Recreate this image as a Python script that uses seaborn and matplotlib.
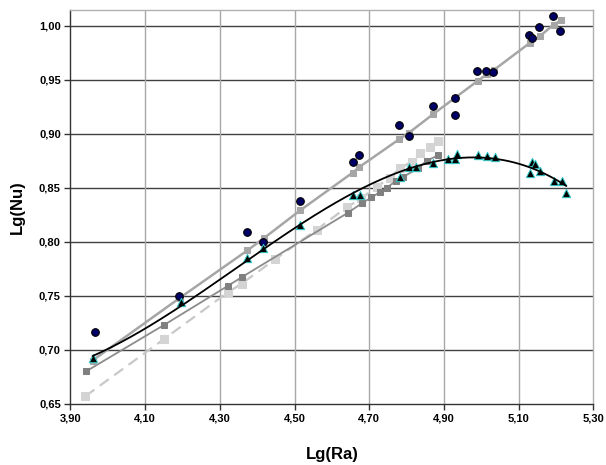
import numpy as np
import pandas as pd
import matplotlib
matplotlib.use("Agg")
import matplotlib.pyplot as plt
import seaborn as sns
from matplotlib import font_manager
from matplotlib.ticker import FuncFormatter, FixedLocator

# Experimental points (circles)
circ_x = [3.966, 4.191, 4.372, 4.416, 4.515, 4.656, 4.673, 4.779, 4.806, 4.871,
          4.929, 4.931, 4.989, 5.014, 5.032, 5.127, 5.135, 5.155, 5.193, 5.211]
circ_y = [0.716, 0.750, 0.809, 0.800, 0.838, 0.874, 0.880, 0.908, 0.898, 0.926,
          0.933, 0.917, 0.958, 0.958, 0.957, 0.991, 0.989, 0.999, 1.009, 0.995]

# Upper correlation (light-mid gray squares)
up_x = [3.959, 4.193, 4.374, 4.417, 4.515, 4.656, 4.673, 4.781, 4.807, 4.871,
        4.929, 4.991, 5.015, 5.034, 5.130, 5.156, 5.194, 5.214]
up_y = [0.690, 0.748, 0.792, 0.803, 0.829, 0.864, 0.869, 0.895, 0.901, 0.918,
        0.933, 0.949, 0.955, 0.959, 0.984, 0.990, 1.001, 1.005]

# Triangles
tri_x = [3.959, 4.195, 4.374, 4.416, 4.515, 4.656, 4.675, 4.782, 4.807, 4.826,
         4.872, 4.910, 4.929, 4.934, 4.992, 5.016, 5.037, 5.130, 5.136, 5.144,
         5.157, 5.195, 5.215, 5.228]
tri_y = [0.692, 0.744, 0.785, 0.794, 0.815, 0.843, 0.843, 0.860, 0.869, 0.869,
         0.873, 0.877, 0.877, 0.881, 0.880, 0.879, 0.878, 0.864, 0.874, 0.872,
         0.865, 0.856, 0.856, 0.845]

# Dark gray squares
dk_x = [3.942, 4.151, 4.321, 4.358, 4.644, 4.682, 4.706, 4.729, 4.747, 4.771,
        4.791, 4.831, 4.854, 4.885]
dk_y = [0.680, 0.723, 0.759, 0.767, 0.827, 0.836, 0.841, 0.846, 0.850, 0.856,
        0.860, 0.868, 0.875, 0.880]

# Light gray squares (dashed)
lt_x = [3.940, 4.151, 4.321, 4.358, 4.449, 4.559, 4.640, 4.679, 4.720, 4.755,
        4.782, 4.814, 4.836, 4.862, 4.885]
lt_y = [0.657, 0.710, 0.753, 0.761, 0.784, 0.811, 0.832, 0.840, 0.851, 0.859,
        0.868, 0.874, 0.882, 0.888, 0.893]

x_ticks = [3.9, 4.1, 4.3, 4.5, 4.7, 4.9, 5.1, 5.3]
y_ticks = [0.65, 0.70, 0.75, 0.80, 0.85, 0.90, 0.95, 1.00]

sns.set_theme(style="white")
plt.rcParams["font.family"] = ["Liberation Sans", "DejaVu Sans"]
plt.rcParams["text.color"] = "black"
plt.rcParams["axes.labelcolor"] = "black"
plt.rcParams["xtick.color"] = "black"
plt.rcParams["ytick.color"] = "black"

# pick the regular-width Liberation Sans Bold file (not the Narrow one)
bold_file = None
for f in font_manager.fontManager.ttflist:
    if f.name == "Liberation Sans" and f.weight in (700, "bold") and f.style == "normal":
        bold_file = f.fname
        break
if bold_file:
    tick_fp = font_manager.FontProperties(fname=bold_file, size=8)
    lab_fp = font_manager.FontProperties(fname=bold_file, size=12)
else:
    tick_fp = font_manager.FontProperties(family="DejaVu Sans", weight="bold", size=8)
    lab_fp = font_manager.FontProperties(family="DejaVu Sans", weight="bold", size=12)

fig = plt.figure(figsize=(6.06, 4.65), dpi=100)
ax = fig.add_axes([0.1163, 0.1318, 0.8627, 0.8467])

# polynomial trendline through triangles
coef = np.polyfit(tri_x, tri_y, 3)
fit_x = np.linspace(min(tri_x), max(tri_x), 200)
fit_df = pd.DataFrame({"x": fit_x, "y": np.polyval(coef, fit_x)})

sns.lineplot(x=lt_x, y=lt_y, ax=ax, color="#c8c8c8", linewidth=1.6,
             linestyle=(0, (5, 3)), marker="s", markersize=5.5,
             markerfacecolor="#d4d4d4", markeredgecolor="#d4d4d4", zorder=2)
sns.lineplot(x=dk_x, y=dk_y, ax=ax, color="#8c8c8c", linewidth=1.3,
             marker="s", markersize=5, markerfacecolor="#808080",
             markeredgecolor="#808080", zorder=3)
sns.lineplot(x=up_x, y=up_y, ax=ax, color="#a6a6a6", linewidth=1.8,
             marker="s", markersize=4.5, markerfacecolor="#a6a6a6",
             markeredgecolor="#a6a6a6", zorder=3)
sns.scatterplot(x=circ_x, y=circ_y, ax=ax, color="#000066", edgecolor="black",
                linewidth=0.8, s=30, marker="o", zorder=4)
sns.scatterplot(x=tri_x, y=tri_y, ax=ax, color="black", edgecolor="#33cccc",
                linewidth=0.7, s=36, marker="^", zorder=5)
sns.lineplot(data=fit_df, x="x", y="y", ax=ax, color="black", linewidth=1.3,
             zorder=6)

ax.set_xlim(3.9, 5.3)
ax.set_ylim(0.65, 1.0145)
ax.xaxis.set_major_locator(FixedLocator(x_ticks))
ax.yaxis.set_major_locator(FixedLocator(y_ticks))
comma = FuncFormatter(lambda v, p: f"{v:.2f}".replace(".", ","))
ax.xaxis.set_major_formatter(comma)
ax.yaxis.set_major_formatter(comma)

ax.grid(False)
for yv in y_ticks[1:]:
    ax.axhline(yv, color="#404040", linewidth=1.0, zorder=1)
for xv in x_ticks[1:-1]:
    ax.axvline(xv, color="#a8a8a8", linewidth=1.0, zorder=1)

for side in ["left", "bottom"]:
    ax.spines[side].set_color("#333333")
    ax.spines[side].set_linewidth(1.0)
for side in ["top", "right"]:
    ax.spines[side].set_color("#b0b0b0")
    ax.spines[side].set_linewidth(1.0)

ax.tick_params(axis="both", which="major", length=4, width=1,
               color="#333333", labelcolor="black", direction="out",
               bottom=True, left=True, pad=3)
for lab in ax.get_xticklabels() + ax.get_yticklabels():
    lab.set_fontproperties(tick_fp)

ax.set_xlabel("Lg(Ra)", fontproperties=lab_fp, labelpad=17, color="black")
ax.set_ylabel("Lg(Nu)", fontproperties=lab_fp, labelpad=10, color="black")

fig.savefig("out.png", dpi=100)
